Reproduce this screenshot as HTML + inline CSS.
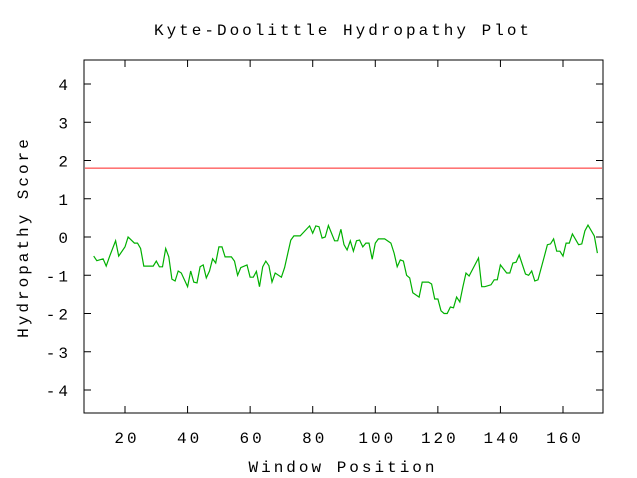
<!DOCTYPE html>
<html><head><meta charset="utf-8"><style>
html,body{margin:0;padding:0;background:#fff;}
svg{display:block;font-family:"Liberation Mono","DejaVu Sans Mono",monospace;}
text{letter-spacing:3px;}
</style></head><body>
<svg id="chart" width="637" height="478" viewBox="0 0 637 478" xmlns="http://www.w3.org/2000/svg">
<rect x="0" y="0" width="637" height="478" fill="#fff"/>
<text x="343" y="35" font-size="16" text-anchor="middle" fill="#000">Kyte-Doolittle Hydropathy Plot</text>
<text x="343" y="472" font-size="16" text-anchor="middle" fill="#000">Window Position</text>
<text x="28" y="237" font-size="16" text-anchor="middle" fill="#000" transform="rotate(-90 28 237)">Hydropathy Score</text>
<g id="ticks"></g>
<g id="series"></g>
<rect x="84" y="60" width="519" height="353" fill="none" stroke="#000" stroke-width="1"/>
</svg>
<script>
const positions = [10,11,13,14,15,17,18,20,21,23,24,25,26,29,30,31,32,33,34,35,36,37,38,40,41,42,43,44,45,46,47,48,49,50,51,52,54,55,56,57,59,60,61,62,63,64,65,66,67,68,70,71,72,73,74,76,79,80,81,82,83,84,85,87,88,89,90,91,92,93,94,95,96,97,98,99,100,101,103,105,106,107,108,109,110,111,112,114,115,117,118,119,120,121,122,123,124,125,126,127,128,129,130,133,134,135,137,138,139,140,142,143,144,145,146,148,149,150,151,152,154,155,156,157,158,159,160,161,162,163,165,166,167,168,170,171];
const scores = [-0.50,-0.62,-0.57,-0.76,-0.52,-0.10,-0.50,-0.26,0.0,-0.16,-0.16,-0.30,-0.76,-0.76,-0.63,-0.78,-0.78,-0.30,-0.52,-1.10,-1.15,-0.89,-0.94,-1.30,-0.89,-1.18,-1.20,-0.78,-0.73,-1.07,-0.89,-0.57,-0.68,-0.26,-0.26,-0.52,-0.52,-0.63,-1.00,-0.80,-0.73,-1.05,-1.05,-0.90,-1.30,-0.78,-0.63,-0.75,-1.18,-0.94,-1.05,-0.80,-0.44,-0.08,0.03,0.03,0.29,0.10,0.29,0.27,-0.03,0.0,0.30,-0.10,-0.10,0.20,-0.20,-0.34,-0.10,-0.37,-0.10,-0.08,-0.26,-0.16,-0.16,-0.58,-0.16,-0.05,-0.05,-0.16,-0.42,-0.78,-0.60,-0.63,-1.00,-1.07,-1.46,-1.57,-1.18,-1.18,-1.23,-1.62,-1.62,-1.93,-2.0,-2.0,-1.83,-1.85,-1.57,-1.70,-1.30,-0.94,-1.02,-0.55,-1.30,-1.30,-1.25,-1.12,-1.12,-0.73,-0.94,-0.94,-0.68,-0.66,-0.47,-0.97,-1.0,-0.89,-1.15,-1.12,-0.52,-0.20,-0.18,-0.05,-0.37,-0.37,-0.50,-0.16,-0.16,0.08,-0.20,-0.18,0.16,0.31,0.03,-0.42];
const threshold = [1.8];
const xTicks = [20,40,60,80,100,120,140,160];
const yTicks = [-4,-3,-2,-1,0,1,2,3,4];

const NS = "http://www.w3.org/2000/svg";
const L=84,R=603,T=60,B=413;
function xs(p){return 125 + (p-20)*(438/140);}
function ys(v){return 237 - v*38.25;}
const tg=document.getElementById('ticks'), sg=document.getElementById('series');
function mk(tag,attrs,parent){const e=document.createElementNS(NS,tag);for(const k in attrs)e.setAttribute(k,attrs[k]);parent.appendChild(e);return e;}
yTicks.forEach(v=>{
  const y=ys(v);
  const a=mk('line',{x1:L,y1:y,x2:L+7,y2:y,stroke:'#000'},tg);
  
  
  const b=mk('line',{x1:R-7,y1:y,x2:R,y2:y,stroke:'#000'},tg);
  
  
  const t=mk('text',{x:71,y:y+6,'font-size':16,'text-anchor':'end',fill:'#000'},tg);
  t.textContent=String(v);
  
  
});
xTicks.forEach(p=>{
  const x=xs(p);
  const a=mk('line',{x1:x,y1:B,x2:x,y2:B-7,stroke:'#000'},tg);
  
  
  const b=mk('line',{x1:x,y1:T,x2:x,y2:T+7,stroke:'#000'},tg);
  
  
  const t=mk('text',{x:x+2,y:443,'font-size':16,'text-anchor':'middle',fill:'#000'},tg);
  t.textContent=String(p);
  
  
});
const th=mk('line',{x1:L+1,y1:ys(threshold[0]),x2:R-1,y2:ys(threshold[0]),stroke:'#ff2020','stroke-width':1},sg);


const d=positions.map((p,i)=>(i?'L':'M')+xs(p).toFixed(1)+' '+ys(scores[i]).toFixed(1)).join(' ');
const pl=mk('path',{d:d,fill:'none',stroke:'#00b000','stroke-width':1.2},sg);


</script>
</body></html>
